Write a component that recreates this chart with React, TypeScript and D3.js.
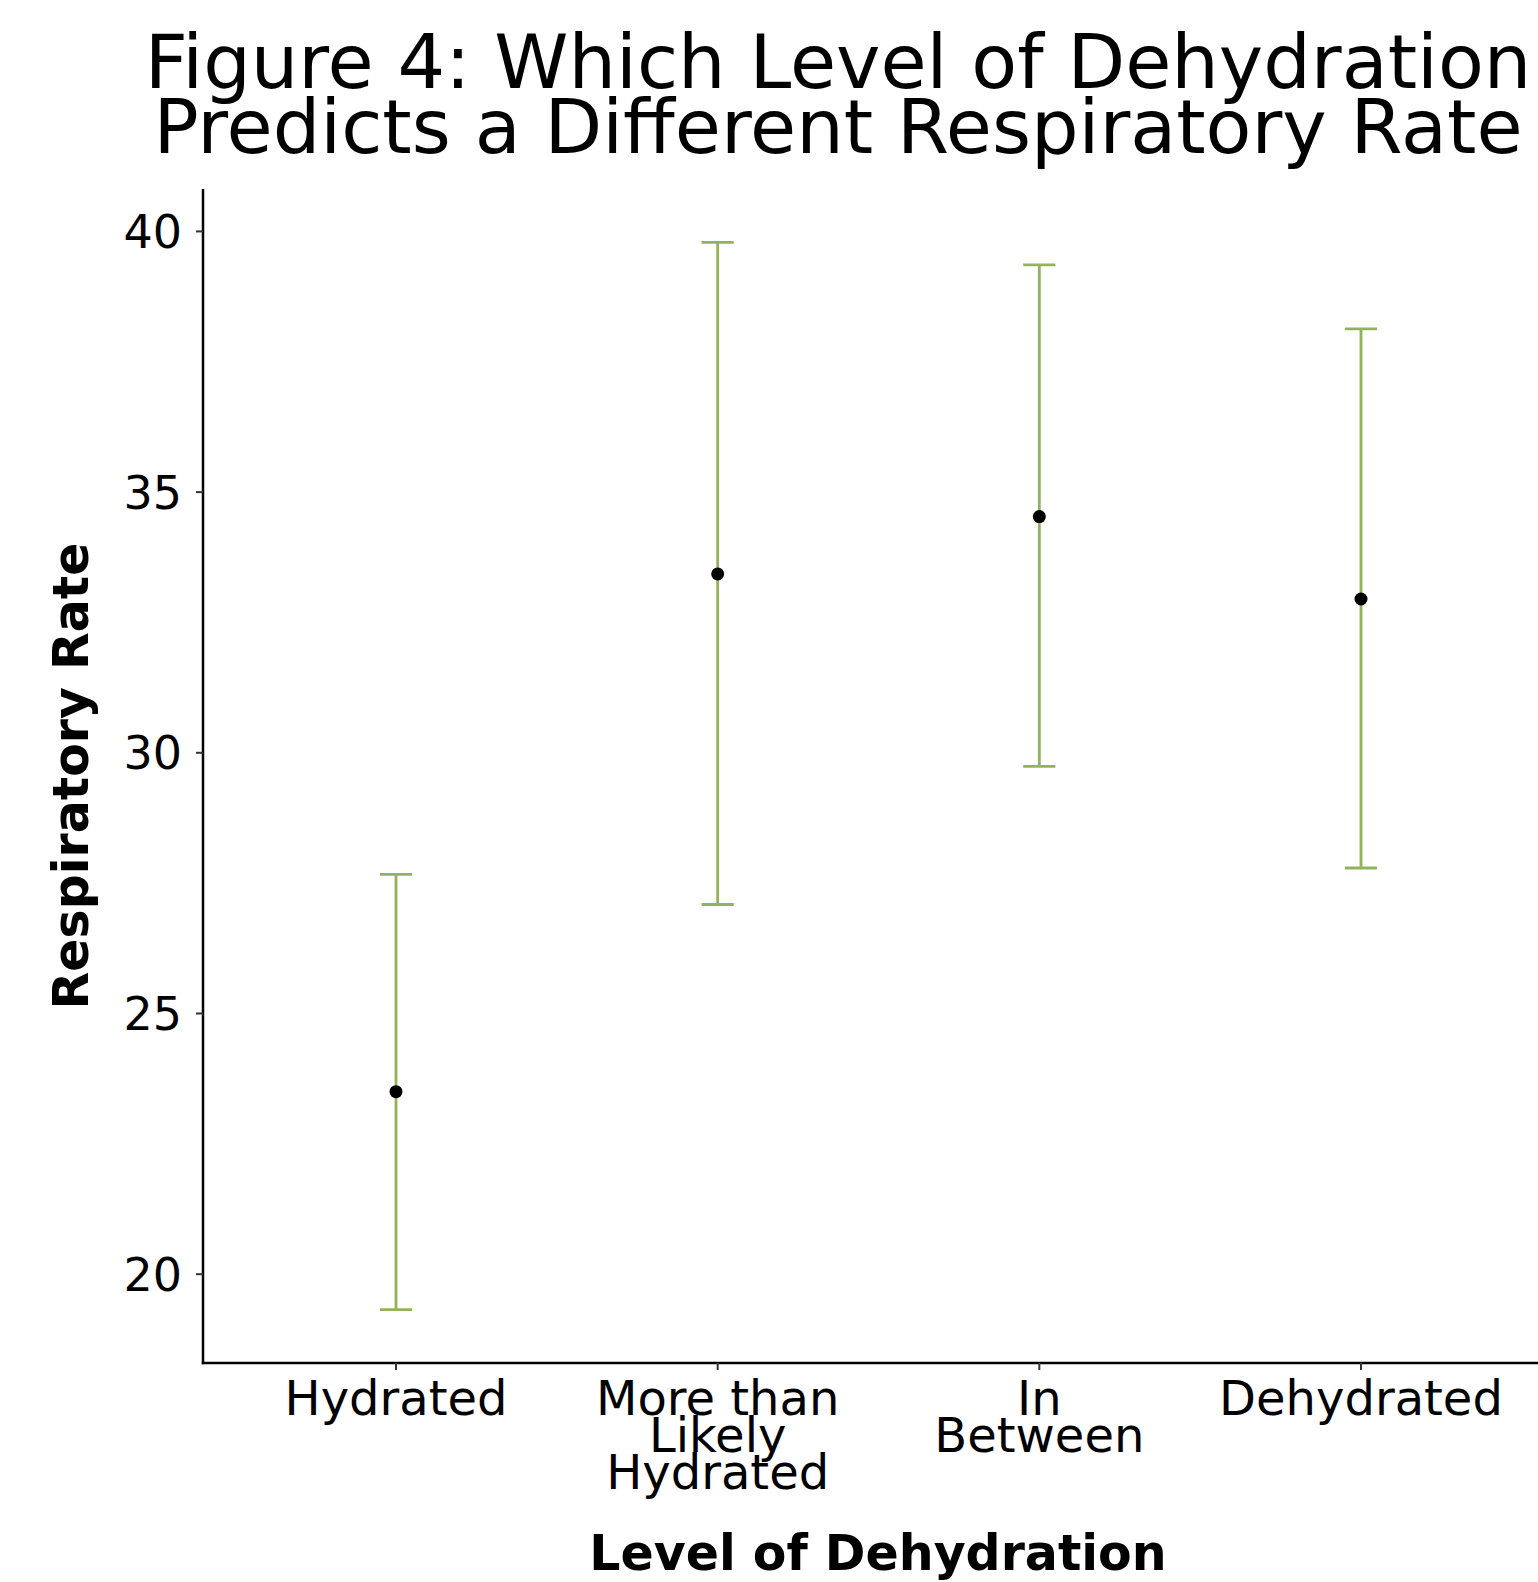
import * as d3 from 'd3';
import React from 'react';

// values
const categories = ['Hydrated', 'More than Likely Hydrated', 'In Between', 'Dehydrated'];
const tickLabels = [['Hydrated'], ['More than', 'Likely', 'Hydrated'], ['In', 'Between'], ['Dehydrated']];
const means = [23.5, 33.43, 34.53, 32.95];
const lowers = [19.32, 27.09, 29.74, 27.79];
const uppers = [27.67, 39.79, 39.36, 38.13];
const yTicks = [20, 25, 30, 35, 40];

const W = 1538;
const H = 1582;
const panel = { left: 203, right: 1554, top: 189, bottom: 1363 };
const font = '"DejaVu Sans", sans-serif';
const green = '#90b35c';

export default function App() {
  const x = d3
    .scalePoint<string>()
    .domain(categories)
    .range([panel.left, panel.right])
    .padding(0.6);
  const step = x.step();

  // ggplot-style 5% expansion around the data
  const lo = d3.min(lowers) as number;
  const hi = d3.max(uppers) as number;
  const pad = (hi - lo) * 0.05;
  const y = d3
    .scaleLinear()
    .domain([lo - pad, hi + pad])
    .range([panel.bottom, panel.top]);

  const capHalf = step * 0.05;

  return (
    <svg
      width={W}
      height={H}
      style={{ position: 'absolute', left: 0, top: 0, background: '#fff' }}
      fontFamily={font}
    >
      <rect width={W} height={H} fill="#fff" />

      {/* title */}
      <text x={838} y={88} fontSize={75} textAnchor="middle" fill="#000">
        Figure 4: Which Level of Dehydration
      </text>
      <text x={838} y={153} fontSize={75} textAnchor="middle" fill="#000">
        Predicts a Different Respiratory Rate
      </text>

      {/* error bars */}
      {categories.map((c, i) => {
        const cx = x(c) as number;
        return (
          <g key={c} stroke={green} strokeWidth={2.8} fill="none">
            <line x1={cx} x2={cx} y1={y(lowers[i])} y2={y(uppers[i])} />
            <line x1={cx - capHalf} x2={cx + capHalf} y1={y(uppers[i])} y2={y(uppers[i])} />
            <line x1={cx - capHalf} x2={cx + capHalf} y1={y(lowers[i])} y2={y(lowers[i])} />
          </g>
        );
      })}

      {/* means */}
      {categories.map((c, i) => (
        <circle key={c} cx={x(c)} cy={y(means[i])} r={6.5} fill="#000" />
      ))}

      {/* y axis */}
      <line x1={panel.left} x2={panel.left} y1={panel.top} y2={panel.bottom + 1.2} stroke="#000" strokeWidth={2.5} />
      {yTicks.map(t => (
        <g key={t}>
          <line x1={panel.left - 7} x2={panel.left} y1={y(t)} y2={y(t)} stroke="#333" strokeWidth={2} />
          <text x={182} y={y(t)} dy="0.36em" fontSize={46} textAnchor="end" fill="#000">
            {t}
          </text>
        </g>
      ))}

      {/* x axis */}
      <line x1={panel.left - 1.2} x2={panel.right} y1={panel.bottom} y2={panel.bottom} stroke="#000" strokeWidth={2.5} />
      {categories.map((c, i) => {
        const cx = x(c) as number;
        return (
          <g key={c}>
            <line x1={cx} x2={cx} y1={panel.bottom} y2={panel.bottom + 7} stroke="#333" strokeWidth={2} />
            <text fontSize={48} textAnchor="middle" fill="#000">
              {tickLabels[i].map((l, j) => (
                <tspan key={j} x={cx} y={1415 + j * 37}>
                  {l}
                </tspan>
              ))}
            </text>
          </g>
        );
      })}

      {/* axis titles */}
      <text x={878} y={1570} fontSize={49} fontWeight="bold" textAnchor="middle" fill="#000">
        Level of Dehydration
      </text>
      <text
        transform={`translate(88, ${(panel.top + panel.bottom) / 2}) rotate(-90)`}
        fontSize={49}
        fontWeight="bold"
        textAnchor="middle"
        fill="#000"
      >
        Respiratory Rate
      </text>
    </svg>
  );
}
